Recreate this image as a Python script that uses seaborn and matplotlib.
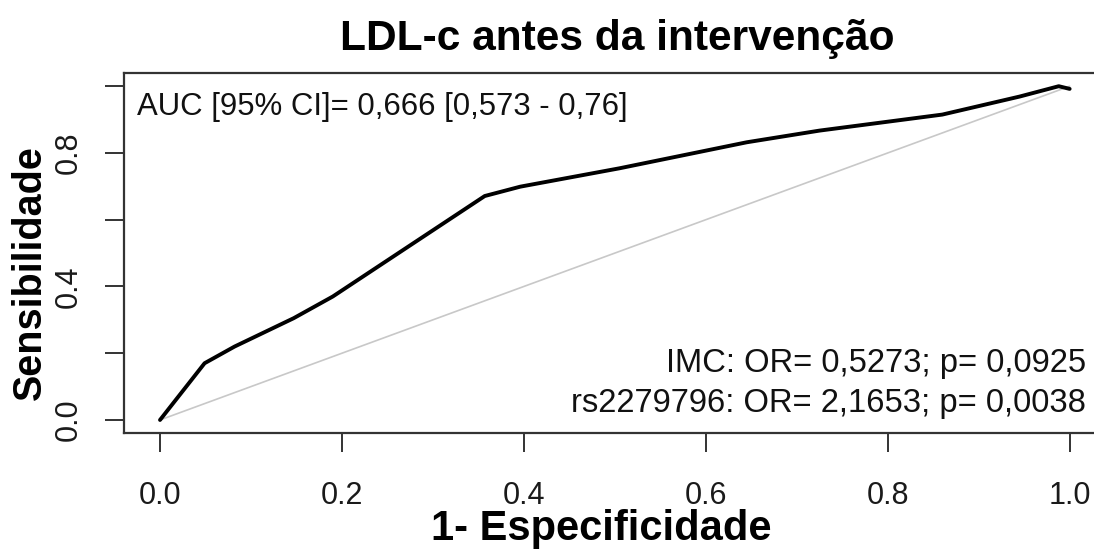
import pandas as pd
import numpy as np
import matplotlib
matplotlib.use("Agg")
import matplotlib.pyplot as plt
import seaborn as sns

# ROC curve values
fpr = [0.0, 0.049, 0.082, 0.147, 0.19, 0.357, 0.396, 0.505, 0.645, 0.725, 0.86, 0.945, 0.988, 1.0]
tpr = [0.0, 0.17, 0.22, 0.305, 0.37, 0.671, 0.699, 0.754, 0.832, 0.867, 0.915, 0.969, 1.0, 0.992]
diag = [0.0, 1.0]

title = "LDL-c antes da intervenção"
xlabel = "1- Especificidade"
ylabel = "Sensibilidade"
auc_text = "AUC [95% CI]= 0,666 [0,573 - 0,76]"
or_lines = ["IMC: OR= 0,5273; p= 0,0925", "rs2279796: OR= 2,1653; p= 0,0038"]
xticks = [0.0, 0.2, 0.4, 0.6, 0.8, 1.0]
xtick_labels = ["0.0", "0.2", "0.4", "0.6", "0.8", "1.0"]
yticks = [0.0, 0.2, 0.4, 0.6, 0.8, 1.0]
ytick_labels = ["0.0", "", "0.4", "", "0.8", ""]

sns.set_style("ticks")
plt.rcParams["font.family"] = ["Liberation Sans", "DejaVu Sans"]

roc = pd.DataFrame({"fpr": fpr, "tpr": tpr})
ref = pd.DataFrame({"x": diag, "y": diag})

fig = plt.figure(figsize=(10.94, 5.52), dpi=100)
ax = fig.add_axes([0.113, 0.215, 0.898, 0.653])

sns.lineplot(data=ref, x="x", y="y", ax=ax, color="#c8c8c8", linewidth=1.2,
             sort=False, estimator=None)
sns.lineplot(data=roc, x="fpr", y="tpr", ax=ax, color="black", linewidth=2.8,
             sort=False, estimator=None)

ax.set_xlim(-0.04, 1.04)
ax.set_ylim(-0.04, 1.04)
ax.set_xticks(xticks)
ax.set_xticklabels(xtick_labels)
ax.set_yticks(yticks)
ax.set_yticklabels(ytick_labels, rotation=90, va="center")
ax.tick_params(axis="both", direction="out", length=14, width=1.2,
               colors="#111111", labelsize=22, labelcolor="#1a1a1a")
ax.tick_params(axis="x", pad=20)
ax.tick_params(axis="y", pad=15)
ax.set_xlabel("")
ax.set_ylabel("")
for s in ax.spines.values():
    s.set_visible(True)
    s.set_linewidth(1.6)
    s.set_color("#333333")

ax.text(-0.025, 0.914, auc_text, fontsize=22.4, color="#111111", va="baseline", ha="left")
ax.text(1.0176, 0.144, or_lines[0], fontsize=23.6, color="#111111", va="baseline", ha="right")
ax.text(1.0176, 0.024, or_lines[1], fontsize=23.6, color="#111111", va="baseline", ha="right")

fig.text(0.564, 1 - 50 / 552, title, fontsize=30.6, fontweight="bold", color="black",
         ha="center", va="baseline")
fig.text(0.55, 12 / 552, xlabel, fontsize=30, fontweight="bold", color="black",
         ha="center", va="baseline")
fig.text(30 / 1094, 0.507, ylabel, fontsize=28.5, fontweight="bold", color="black",
         ha="center", va="center", rotation=90)

plt.savefig("out.png", dpi=100)
plt.close()
